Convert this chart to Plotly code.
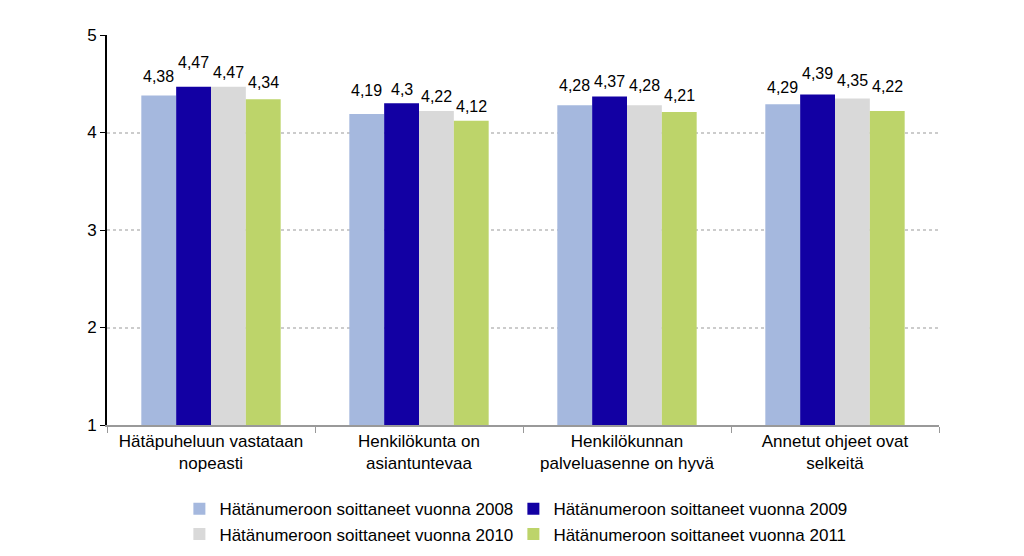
import plotly.graph_objects as go

categories = ["Hätäpuheluun vastataan<br>nopeasti", "Henkilökunta on<br>asiantuntevaa",
              "Henkilökunnan<br>palveluasenne on hyvä", "Annetut ohjeet ovat<br>selkeitä"]
series_names = ["Hätänumeroon soittaneet vuonna 2008", "Hätänumeroon soittaneet vuonna 2009",
                "Hätänumeroon soittaneet vuonna 2010", "Hätänumeroon soittaneet vuonna 2011"]
v2008 = [4.38, 4.19, 4.28, 4.29]
v2009 = [4.47, 4.30, 4.37, 4.39]
v2010 = [4.47, 4.22, 4.28, 4.35]
v2011 = [4.34, 4.12, 4.21, 4.22]
y_ticks = [1, 2, 3, 4, 5]

colors = ["#A5B8DE", "#1200A3", "#D9D9D9", "#BDD46A"]
# label lift above bar top (pixels), styling only, as placed in the original
label_lift = [
    [8, 13, 9, 6],
    [14, 3, 4, 10],
    [4, 4, 9, 7],
    [6, 4, 6, 14],
]

# layout geometry
W, H = 1024, 556
ML, MR, MT, MB = 99, 93, 27, 139
BARGAP = 0.33
n_series = 4
cat_px = (W - ML - MR) / len(categories)
bar_px = cat_px * (1 - BARGAP) / n_series

fig = go.Figure()
annotations = []
for i, (name, vals, col) in enumerate(zip(series_names, [v2008, v2009, v2010, v2011], colors)):
    fig.add_trace(go.Bar(
        x=categories, y=vals, name=name, marker=dict(color=col, line=dict(width=0)),
    ))
    for j, (c, v) in enumerate(zip(categories, vals)):
        annotations.append(dict(
            x=c, y=v, xref="x", yref="y", text=("%g" % v).replace(".", ","),
            showarrow=False, xanchor="center", yanchor="bottom",
            xshift=(i - (n_series - 1) / 2) * bar_px, yshift=label_lift[i][j],
            font=dict(size=16, color="#000000"),
        ))

fig.update_layout(
    width=W, height=H,
    margin=dict(l=ML, r=MR, t=MT, b=MB, autoexpand=False),
    paper_bgcolor="white", plot_bgcolor="white",
    barmode="group", bargap=BARGAP, bargroupgap=0,
    font=dict(family="Liberation Sans, Arial, sans-serif", size=17, color="#000000"),
    showlegend=True,
    legend=dict(orientation="h", x=0.087, xanchor="left", y=-0.17, yanchor="top",
                entrywidth=289, font=dict(size=17), itemsizing="constant",
                tracegroupgap=0),
    xaxis=dict(showline=True, linecolor="#999999", linewidth=1.5, ticks="outside",
               tickson="boundaries", tickcolor="#999999", ticklen=6,
               tickfont=dict(size=17)),
    yaxis=dict(range=[1, 5], tickvals=y_ticks, showline=True, linecolor="#000000",
               linewidth=2, ticks="outside", ticklen=5, tickcolor="#000000",
               showgrid=True, gridcolor="#CCCCCC", griddash="dot", gridwidth=1.5,
               tickfont=dict(size=17), zeroline=False),
    annotations=annotations,
)
fig.write_html("out.html")
